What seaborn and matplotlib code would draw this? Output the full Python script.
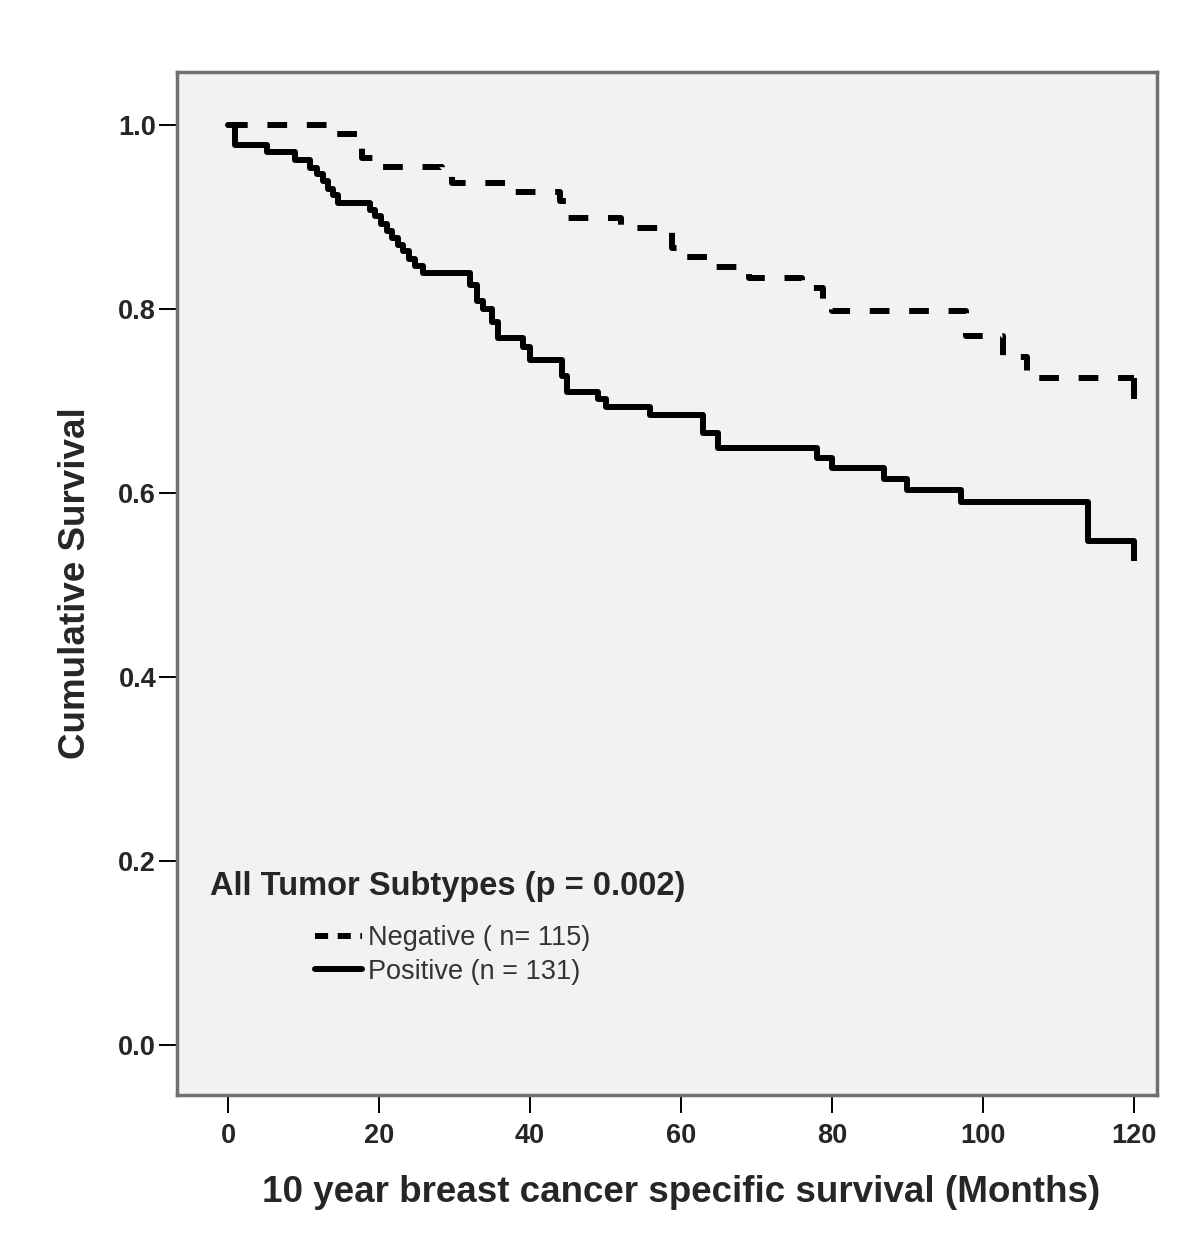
import numpy as np
import pandas as pd
import seaborn as sns
import matplotlib
matplotlib.use("Agg")
import matplotlib.pyplot as plt
from matplotlib.lines import Line2D

# Kaplan-Meier step values (months, cumulative survival)
neg_time = [0, 14.0, 17.7, 19.5, 28.3, 29.7, 38.0, 44.0, 45.0, 52.0, 58.8, 60.5,
            64.5, 69.0, 76.0, 78.8, 80.0, 97.7, 102.6, 105.8, 120]
neg_surv = [1.0, 0.991, 0.965, 0.955, 0.946, 0.937, 0.927, 0.918, 0.899, 0.888, 0.867, 0.857,
            0.846, 0.834, 0.823, 0.810, 0.798, 0.771, 0.748, 0.725, 0.725]

pos_time = [0, 0.9, 5.2, 8.9, 10.9, 11.8, 12.6, 13.2, 13.9, 14.6,
            18.8, 19.5, 20.2, 21.0, 21.7, 22.5, 23.2, 24.0, 24.8, 25.8,
            32.0, 33.0, 33.8, 35.0, 35.8, 39.1, 40.0, 44.2, 44.9, 49.0, 50.0,
            55.9, 62.9, 64.9, 78.0, 80.0, 86.8, 89.9, 97.0, 113.9, 120]
pos_surv = [1.0, 0.979, 0.971, 0.962, 0.954, 0.947, 0.939, 0.931, 0.924, 0.916,
            0.908, 0.901, 0.893, 0.885, 0.878, 0.870, 0.863, 0.855, 0.847, 0.840,
            0.826, 0.809, 0.800, 0.786, 0.769, 0.759, 0.745, 0.728, 0.710, 0.703, 0.694,
            0.685, 0.666, 0.649, 0.638, 0.628, 0.616, 0.604, 0.591, 0.548, 0.548]

# censored marks at the end of follow-up
cens_time = [120, 120]
cens_surv = [0.725, 0.548]

group_labels = ["Negative ( n= 115)", "Positive (n = 131)"]
legend_title = "All Tumor Subtypes (p = 0.002)"
x_ticks = [0, 20, 40, 60, 80, 100, 120]
y_ticks = [0.0, 0.2, 0.4, 0.6, 0.8, 1.0]

sns.set_theme(style="ticks")
plt.rcParams['font.family'] = ['Liberation Sans', 'DejaVu Sans']

neg = pd.DataFrame({"time": neg_time, "surv": neg_surv})
pos = pd.DataFrame({"time": pos_time, "surv": pos_surv})

fig = plt.figure(figsize=(12, 12.58), dpi=100)
ax = fig.add_axes([0.1475, 0.1296, 0.8167, 0.8132])
ax.set_facecolor("#F2F2F2")

lw = 4.3
dash = (0, (3.3, 3.3))
sns.lineplot(data=neg, x="time", y="surv", ax=ax, color="black", lw=lw,
             drawstyle="steps-post", linestyle=dash, estimator=None, sort=False)
sns.lineplot(data=pos, x="time", y="surv", ax=ax, color="black", lw=lw,
             drawstyle="steps-post", estimator=None, sort=False)
cs = np.array(cens_surv)
ax.vlines(cens_time, cs - 0.022, cs, color="black", lw=lw)

ax.set_xlim(-6.75, 123)
ax.set_ylim(-0.054, 1.058)
ax.set_xticks(x_ticks)
ax.set_yticks(y_ticks)
ax.set_yticklabels([f"{v:.1f}" for v in y_ticks])
ax.tick_params(direction="out", length=13, width=1.4, color="black",
               labelsize=19.5, pad=7)
ax.tick_params(axis="y", pad=2)
for lab in ax.get_xticklabels() + ax.get_yticklabels():
    lab.set_fontweight("bold")

for s in ax.spines.values():
    s.set_color("#707070")
    s.set_linewidth(2.5)

ax.set_xlabel("10 year breast cancer specific survival (Months)",
              fontsize=26.5, fontweight="bold", labelpad=19)
ax.xaxis.label.set_x(0.514)
ax.set_ylabel("Cumulative Survival", fontsize=26.5, fontweight="bold", labelpad=18)

fig.text(210 / 1200, 1 - 887 / 1258, legend_title, fontsize=23.5,
         fontweight="bold", va="center", ha="left")
handles = [Line2D([], [], color="black", lw=lw, linestyle=(0, (2.2, 1.6))),
           Line2D([], [], color="black", lw=lw)]
fig.legend(handles, group_labels, loc="upper left",
           bbox_to_anchor=(315 / 1200, 1 - 925 / 1258), frameon=False,
           fontsize=19.5, handlelength=1.75, handletextpad=0.22,
           labelspacing=0.28, borderpad=0, borderaxespad=0, labelcolor="#333333")

fig.savefig("out.png", dpi=100, facecolor="white")
